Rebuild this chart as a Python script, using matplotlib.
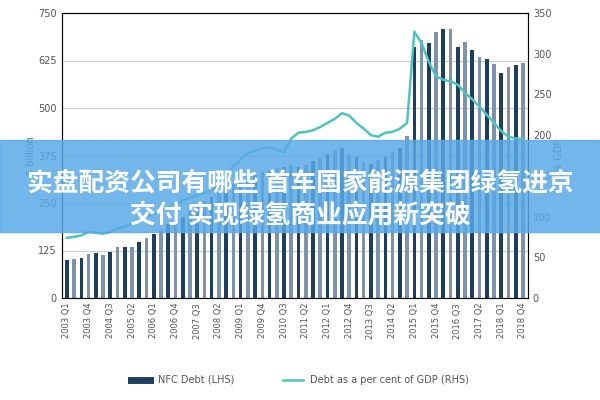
import matplotlib
matplotlib.use("Agg")
import matplotlib.pyplot as plt
from matplotlib import font_manager
from matplotlib.patches import Rectangle
from matplotlib.lines import Line2D

quarters = [f"{y} Q{q}" for y in range(2003, 2019) for q in range(1, 5)]
nfc_debt = [100, 103, 105, 116, 118, 113, 120, 133, 133, 135, 147, 158, 168, 180, 195, 205,
            213, 228, 245, 255, 266, 280, 292, 300, 310, 318, 325, 332, 338, 342, 346, 350,
            345, 350, 360, 368, 378, 390, 395, 380, 370, 358, 352, 363, 372, 385, 395, 426,
            660, 680, 671, 700, 708, 708, 660, 674, 653, 634, 628, 615, 592, 608, 613, 618]
debt_gdp = [74, 75, 77, 81, 80, 79, 81, 85, 88, 92, 96, 100, 104, 107, 111, 115,
            120, 123, 126, 129, 133, 140, 148, 162, 170, 178, 181, 184, 185, 182, 179, 196,
            203, 204, 206, 210, 215, 220, 227, 224, 215, 208, 200, 198, 203, 204, 208, 215,
            327, 313, 290, 272, 268, 266, 262, 252, 244, 235, 225, 215, 205, 198, 196, 195]
left_ticks = [0, 125, 250, 375, 500, 625, 750]
right_ticks = [0, 50, 100, 150, 200, 250, 300, 350]

cjk = None
for f in font_manager.findSystemFonts():
    if "CJK" in f and "Sans" in f and "Serif" not in f and ("Bold" in f or cjk is None):
        cjk = f
fp = font_manager.FontProperties(fname=cjk, size=18.5, weight="bold") if cjk else \
    font_manager.FontProperties(family="Noto Sans CJK SC", size=18.5, weight="bold")

fig = plt.figure(figsize=(6, 4), dpi=100)
ax = fig.add_axes([0.103, 0.255, 0.777, 0.7125])
x = list(range(len(quarters)))
colors = ["#1f3d5e" if i % 2 == 0 else "#7e93ab" for i in x]
ax.bar(x, nfc_debt, width=0.5, color=colors, zorder=2)
ax.set_ylim(0, 750)
ax.set_yticks(left_ticks)
ax.set_xlim(-0.7, len(x) - 0.3)
ax.set_xticks(x[::3])
ax.set_xticklabels(quarters[::3], rotation=90, fontsize=6, color="#555555")
ax.tick_params(axis="y", labelsize=7, colors="#555555", length=0)
ax.tick_params(axis="x", length=0)
ax.grid(axis="y", color="#cccccc", lw=0.8, zorder=0)
ax.set_ylabel("$ billion", fontsize=7, color="#555555", labelpad=2)
for s in ax.spines.values():
    s.set_color("#666666")

ax2 = ax.twinx()
ax2.plot(x, debt_gdp, color="#4fc4bd", lw=1.8, zorder=3)
ax2.set_ylim(0, 350)
ax2.set_yticks(right_ticks)
ax2.tick_params(axis="y", labelsize=7, colors="#555555", length=0)
ax2.set_ylabel("% GDP", fontsize=7, color="#555555", labelpad=2)

handles = [Line2D([0], [0], color="#1f3d5e", lw=5), Line2D([0], [0], color="#4fc4bd", lw=1.8)]
fig.legend(handles, ["NFC Debt (LHS)", "Debt as a per cent of GDP (RHS)"], loc="center",
           bbox_to_anchor=(0.5, 0.05), ncol=2, frameon=False, fontsize=7,
           labelcolor="#555555", columnspacing=5)

fig.patches.append(Rectangle((0, 0.42), 1, 0.23, transform=fig.transFigure,
                             color="#5aa9e6", alpha=0.85, zorder=10))
fig.text(0.5, 0.543, "实盘配资公司有哪些 首车国家能源集团绿氢进京", ha="center", va="center",
         color="white", fontproperties=fp, zorder=11)
fig.text(0.5, 0.463, "交付 实现绿氢商业应用新突破", ha="center", va="center",
         color="white", fontproperties=fp, zorder=11)

fig.savefig("out.png", dpi=100)
